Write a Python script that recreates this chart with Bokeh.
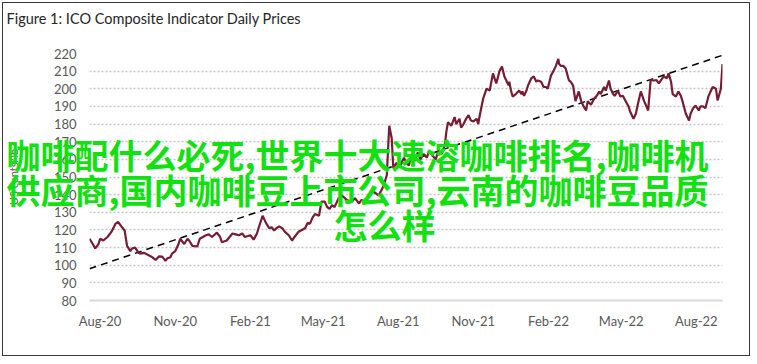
import pandas as pd
from bokeh.plotting import figure
from bokeh.models import Range1d, FixedTicker, Title
from bokeh.embed import file_html
from bokeh.resources import INLINE

# ---- data ----
start_date = "2020-07-19"
day_offsets = [0, 4, 7, 11, 13, 17, 22, 27, 32, 35, 39, 43, 46, 50, 52, 56, 60, 62, 67, 73,
               77, 81, 85, 89, 93, 95, 99, 101, 105, 109, 111, 116, 120, 122, 126, 132, 135, 142, 146, 150,
               156, 160, 162, 168, 175, 179, 183, 187, 190, 197, 201, 205, 208, 212, 216, 220, 223, 226, 229, 232,
               236, 239, 244, 248, 251, 256, 260, 264, 267, 270, 273, 276, 281, 284, 288, 291, 294, 297, 300, 305,
               309, 315, 321, 325, 330, 333, 337, 342, 345, 350, 354, 358, 360, 364, 366, 367, 370, 372, 376, 380,
               385, 388, 391, 394, 398, 402, 405, 409, 413, 416, 420, 424, 427, 431, 435, 437, 439, 443, 447, 449,
               453, 455, 458, 461, 464, 467, 470, 474, 476, 477, 480, 482, 486, 490, 492, 494, 498, 502, 505, 508,
               510, 513, 514, 516, 518, 522, 526, 529, 530, 532, 535, 537, 541, 544, 547, 549, 553, 556, 559, 561,
               565, 568, 571, 574, 575, 577, 580, 583, 587, 589, 592, 595, 599, 602, 605, 608, 610, 614, 618, 621,
               624, 626, 630, 632, 636, 638, 641, 643, 647, 650, 653, 656, 660, 662, 666, 669, 671, 675, 679, 681,
               684, 687, 691, 694, 697, 700, 703, 707, 709, 712, 714, 718, 721, 724, 726, 730, 734, 736, 739, 742,
               746, 748, 751, 754, 758, 760, 763, 767, 769, 773, 775]
prices = [115, 112, 109.5, 112, 115, 114, 116, 119, 123.6, 124.5, 122, 119.7, 111, 108, 109.5, 110, 107, 106.6, 107, 105.5,
          104.5, 103, 105, 104.9, 102.5, 103.8, 104.5, 106.6, 108, 112, 115, 112, 115, 114, 111, 110.6, 115, 116.8, 117.5, 116,
          118.5, 116, 113, 114, 118, 117.5, 117, 118, 116, 117, 114.5, 118, 122.5, 128, 124, 121, 121.5, 119.7, 121, 122,
          121, 119, 117, 114, 116, 119, 120, 121, 124, 123.6, 127, 129, 128, 136, 136, 133, 132, 134, 133, 138,
          139.5, 137, 136, 138, 135, 137, 136, 140, 142, 141, 139.5, 143, 145, 151, 170, 179, 172, 155, 158, 156,
          161, 158, 156.5, 162, 159, 164, 160, 163, 161, 165, 162, 160, 165, 163, 168, 176, 181, 179, 184, 180,
          183, 178, 180, 183, 185, 182, 181.5, 183, 180, 183, 190, 194.5, 200, 199, 204, 208.7, 203, 210, 212.6, 207,
          205, 202, 204, 199, 195.6, 197, 199, 197, 198.5, 196, 199, 202, 206, 207, 204, 204.7, 204, 201, 201, 200,
          207.5, 210, 213, 217, 214, 213, 213, 211.5, 204.7, 204, 202, 193, 198.5, 193, 190, 187.7, 193, 191, 194.5, 196,
          198.5, 197, 201, 199, 204.7, 200, 197, 196, 199, 195.6, 196, 193.4, 190, 187, 183, 186, 190.5, 198.5, 193, 191,
          187.7, 205, 204.7, 205, 203, 205, 207, 206, 208.7, 204, 197, 195.6, 198.5, 196, 193, 186, 182, 186, 189, 190.5,
          187.7, 190, 190, 189, 196, 198, 201, 200, 193.4, 200, 214]

trend_days = [0, 775]
trend_values = [98, 219]

x_tick_dates = ["2020-08-01", "2020-11-01", "2021-02-01", "2021-05-01", "2021-08-01",
                "2021-11-01", "2022-02-01", "2022-05-01", "2022-08-01"]
x_tick_labels = ["Aug-20", "Nov-20", "Feb-21", "May-21", "Aug-21",
                 "Nov-21", "Feb-22", "May-22", "Aug-22"]
y_ticks = [80, 90, 100, 110, 120, 130, 140, 150, 160, 170, 180, 190, 200, 210, 220]

title_text = "Figure 1: ICO Composite Indicator Daily Prices"
y_label = "US cents/lb"
overlay_lines = ["咖啡配什么必死,世界十大速溶咖啡排名,咖啡机",
                 "供应商,国内咖啡豆上市公司,云南的咖啡豆品质",
                 "怎么样"]

# ---- build ----
t0 = pd.Timestamp(start_date)
dates = t0 + pd.to_timedelta(day_offsets, unit="D")
trend_dates = t0 + pd.to_timedelta(trend_days, unit="D")
tick_ms = [pd.Timestamp(d).value / 1e6 for d in x_tick_dates]

FONT = "Lato"
GREEN = "#11e011"
CJK = "Noto Sans CJK SC"

p = figure(width=748, height=354, x_axis_type="datetime", title=None,
           output_backend="svg", toolbar_location=None,
           x_range=Range1d(dates.min(), dates.max()),
           y_range=Range1d(min(y_ticks), max(y_ticks)),
           min_border_left=82, min_border_right=29, min_border_top=50, min_border_bottom=57)
p.styles = {"border": "1px solid #3a3a3a", "margin-left": "2px", "margin-top": "2px"}
p.outline_line_color = None
p.background_fill_color = "white"
p.border_fill_color = "white"

# grid
p.xgrid.grid_line_color = None
p.ygrid.ticker = FixedTicker(ticks=y_ticks[1:])
p.ygrid.grid_line_color = "#c4c4c4"
p.ygrid.grid_line_dash = "2 2"
p.ygrid.grid_line_width = 1.5

# axes
p.xaxis.ticker = FixedTicker(ticks=tick_ms)
p.xaxis.major_label_overrides = {t: l for t, l in zip(tick_ms, x_tick_labels)}
p.xaxis.axis_line_color = "#d9d9d9"
p.xaxis.axis_line_width = 2
p.xaxis.major_tick_line_color = None
p.xaxis.minor_tick_line_color = None
p.xaxis.major_tick_out = 0
p.xaxis.major_label_standoff = 12
p.xaxis.major_label_text_font = FONT
p.xaxis.major_label_text_font_size = "13px"
p.xaxis.major_label_text_color = "#595959"

p.yaxis.ticker = FixedTicker(ticks=y_ticks)
p.yaxis.axis_line_color = None
p.yaxis.major_tick_line_color = None
p.yaxis.minor_tick_line_color = None
p.yaxis.major_tick_out = 0
p.yaxis.major_label_standoff = 13
p.yaxis.major_label_text_font = FONT
p.yaxis.major_label_text_font_size = "13px"
p.yaxis.major_label_text_color = "#595959"
p.yaxis.axis_label = y_label
p.yaxis.axis_label_text_font = FONT
p.yaxis.axis_label_text_font_size = "11px"
p.yaxis.axis_label_text_font_style = "normal"
p.yaxis.axis_label_text_color = "#595959"
p.yaxis.axis_label_standoff = 31

# series
p.line(trend_dates, trend_values, line_color="black", line_width=1.5, line_dash="7 5")
p.line(dates, prices, line_color="#761c34", line_width=2.2)

# ---- titles / overlay text (side panels are not clipped to the frame) ----
# above panel, stacked outward from the frame: spacer, chart title, 3rd green line
p.add_layout(Title(text=" ", text_font_size="2px", text_color="white", standoff=23), "above")
p.add_layout(Title(text=title_text, align="left", offset=-83, standoff=0,
                   text_font=FONT, text_font_size="14.5px", text_font_style="normal",
                   text_color="#262626"), "above")
p.add_layout(Title(text=overlay_lines[2], align="left", offset=244, standoff=-483,
                   vertical_align="bottom",
                   text_font=CJK, text_font_size="34px", text_font_style="bold",
                   text_color=GREEN), "above")
# below panel, after the x axis: first two green lines
p.add_layout(Title(text=overlay_lines[0] + "\n" + overlay_lines[1], align="left", offset=-83,
                   standoff=-404, vertical_align="top", text_line_height=0.72,
                   text_font=CJK, text_font_size="34px", text_font_style="bold",
                   text_color=GREEN), "below")

open("out.html", "w").write(file_html(p, INLINE))
